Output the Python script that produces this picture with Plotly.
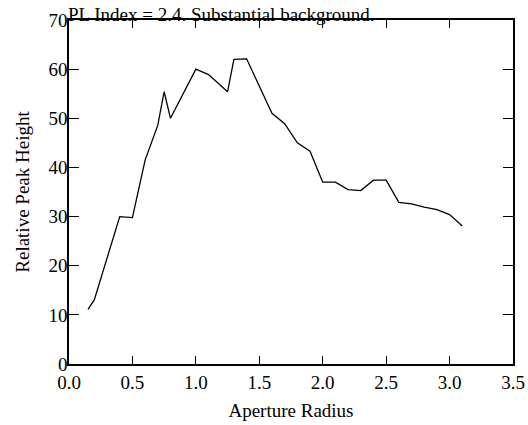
import plotly.graph_objects as go

radius = [0.15, 0.2, 0.4, 0.5, 0.6, 0.7, 0.75, 0.8, 1.0, 1.1, 1.25, 1.3, 1.4, 1.6, 1.7,
          1.8, 1.9, 2.0, 2.1, 2.2, 2.3, 2.4, 2.5, 2.6, 2.7, 2.8, 2.9, 3.0, 3.1]
peak = [11.1, 13.1, 30.0, 29.8, 41.5, 48.6, 55.4, 50.0, 60.0, 58.9, 55.4, 62.0, 62.1, 51.0, 48.9,
        45.0, 43.3, 37.0, 37.0, 35.5, 35.3, 37.4, 37.4, 32.9, 32.6, 31.9, 31.4, 30.4, 28.1]

title = "PL Index = 2.4. Substantial background."
xlabel = "Aperture Radius"
ylabel = "Relative Peak Height"

font = "Liberation Serif, Times New Roman, serif"
fs = 19

fig = go.Figure()
fig.add_trace(go.Scatter(x=radius, y=peak, mode="lines",
                         line=dict(color="black", width=1.3), showlegend=False))

fig.update_layout(
    width=528, height=425,
    margin=dict(l=69, r=15, t=20, b=61),
    paper_bgcolor="white", plot_bgcolor="white",
    font=dict(family=font, size=fs, color="black"),
    annotations=[dict(text=title, xref="paper", yref="paper", x=0, y=1,
                      xanchor="left", yanchor="bottom", yshift=-7, xshift=-3,
                      showarrow=False,
                      font=dict(family=font, size=fs, color="black"))],
)
fig.update_xaxes(range=[0, 3.5], dtick=0.5, tickformat=".1f",
                 ticks="inside", ticklen=8, tickwidth=1, tickcolor="black",
                 showline=True, linecolor="black", linewidth=1.5, mirror="ticks",
                 showgrid=False, zeroline=False, ticklabelstandoff=0, automargin=False,
                 title=dict(text=xlabel, standoff=12, font=dict(family=font, size=fs)))
fig.update_yaxes(range=[0, 70], dtick=10,
                 ticks="inside", ticklen=10, tickwidth=1, tickcolor="black",
                 showline=True, linecolor="black", linewidth=1.5, mirror="ticks",
                 showgrid=False, zeroline=False, ticklabelstandoff=-4, automargin=False,
                 title=dict(text=ylabel, standoff=14, font=dict(family=font, size=fs)))

fig.write_html("out.html", config={"displayModeBar": False},
               post_script="document.body.style.margin='0';document.body.style.overflow='hidden';")
